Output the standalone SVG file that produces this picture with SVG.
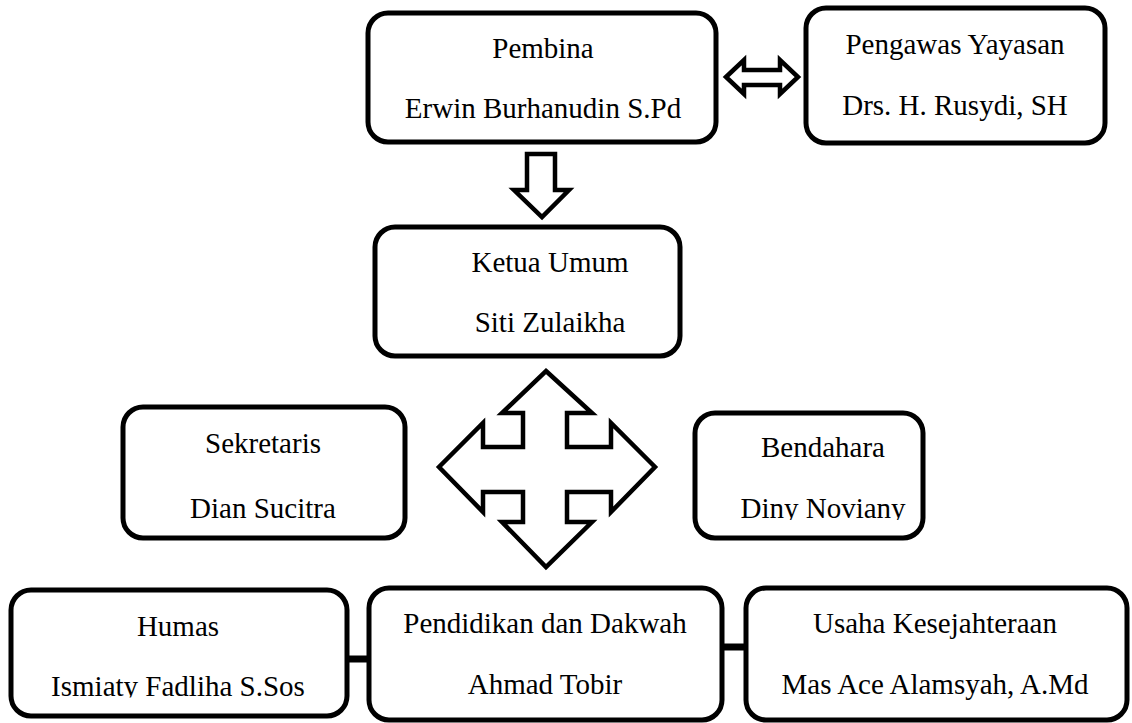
<svg xmlns="http://www.w3.org/2000/svg" width="1132" height="723" viewBox="0 0 1132 723">
<style>
.box{fill:#fff;stroke:#000;stroke-width:5}
.t{font-family:"Liberation Serif","Times New Roman",serif;font-size:29px;fill:#000;text-anchor:middle}
.arr{fill:#fff;stroke:#000;stroke-width:4.5;stroke-linejoin:miter}
.bar{stroke:#000;stroke-width:7}
</style>
<defs>
<clipPath id="cBend"><rect x="690" y="400" width="240" height="120"/></clipPath>
<clipPath id="cHum"><rect x="0" y="580" width="360" height="117.5"/></clipPath>
</defs>
<rect width="1132" height="723" fill="#fff"/>
<g id="connectors">
<polygon class="arr" points="726,77 744,60 744,70 780,70 780,60 798,77 780,94 780,85 744,85 744,94"/>
<polygon class="arr" points="527,154 555,154 555,190 569,190 542,217 514,190 527,190"/>
<polygon class="arr" points="546,371 592,413 567,413 567,447 611,447 611,423 655,467 611,512 611,492 567,492 567,522 592,522 546,567 502,522 523,522 523,492 483,492 483,512 439,467 483,423 483,447 523,447 523,413 502,413"/>
<line class="bar" x1="345" y1="659" x2="372" y2="659"/>
<line class="bar" x1="720" y1="647" x2="748" y2="647"/>
</g>
<g id="pembina">
<rect class="box" x="368" y="13" width="348" height="129" rx="20"/>
<text class="t" x="543" y="58">Pembina</text>
<text class="t" x="543" y="118">Erwin Burhanudin S.Pd</text>
</g>
<g id="pengawas">
<rect class="box" x="806" y="8" width="299" height="135" rx="20"/>
<text class="t" x="955" y="54">Pengawas Yayasan</text>
<text class="t" x="955" y="115">Drs. H. Rusydi, SH</text>
</g>
<g id="ketua">
<rect class="box" x="375" y="227" width="305" height="129" rx="20"/>
<text class="t" x="550" y="272">Ketua Umum</text>
<text class="t" x="550" y="332">Siti Zulaikha</text>
</g>
<g id="sekretaris">
<rect class="box" x="123" y="407" width="282" height="131" rx="20"/>
<text class="t" x="263" y="453">Sekretaris</text>
<text class="t" x="263" y="518">Dian Sucitra</text>
</g>
<g id="bendahara">
<rect class="box" x="695" y="413" width="228" height="125" rx="20"/>
<text class="t" x="823" y="457">Bendahara</text>
<text class="t" x="823" y="518" clip-path="url(#cBend)">Diny Noviany</text>
</g>
<g id="humas">
<rect class="box" x="11" y="590" width="336" height="126" rx="20"/>
<text class="t" x="178" y="636">Humas</text>
<text class="t" x="178" y="696" clip-path="url(#cHum)">Ismiaty Fadliha S.Sos</text>
</g>
<g id="pendidikan">
<rect class="box" x="369" y="588" width="353" height="132" rx="20"/>
<text class="t" x="545" y="633">Pendidikan dan Dakwah</text>
<text class="t" x="545" y="694">Ahmad Tobir</text>
</g>
<g id="usaha">
<rect class="box" x="746" y="588" width="381" height="132" rx="20"/>
<text class="t" x="935" y="633">Usaha Kesejahteraan</text>
<text class="t" x="935" y="694">Mas Ace Alamsyah, A.Md</text>
</g>
</svg>
